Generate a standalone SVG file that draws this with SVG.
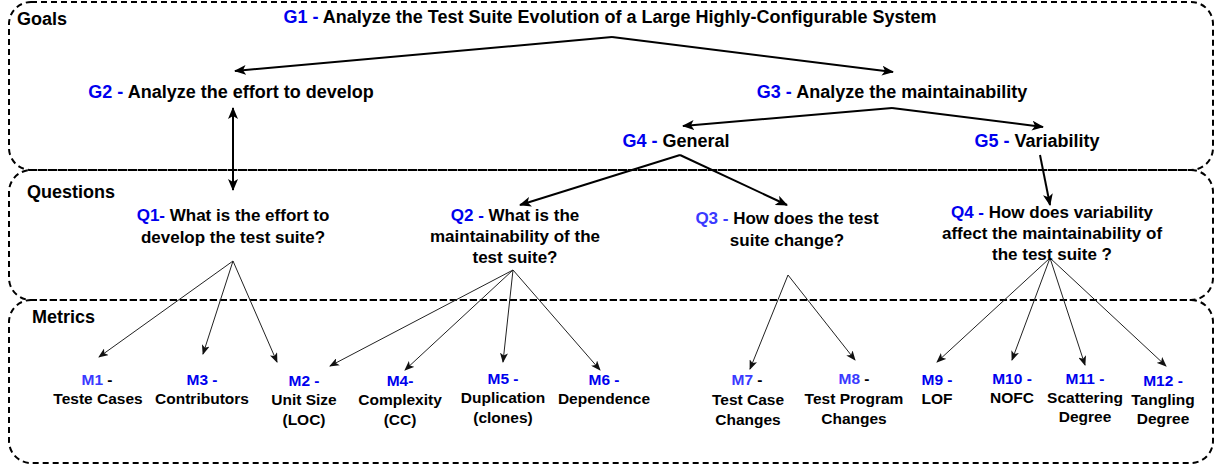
<svg xmlns="http://www.w3.org/2000/svg" width="1222" height="468" viewBox="0 0 1222 468">
<style>
.t{font-family:"Liberation Sans",Arial,sans-serif;font-weight:bold;fill:#000}
.g{font-size:18px}
.q{font-size:17px}
.m{font-size:15.5px}
.c{text-anchor:middle}
.b{fill:#0000ee}
.lb{fill:#3a3aff}
.box{fill:none;stroke:#000;stroke-width:2;stroke-dasharray:6 4}
.a{fill:none;stroke:#000;stroke-width:2}
.f{fill:none;stroke:#222;stroke-width:1}
</style>
<defs>
<marker id="ab" viewBox="0 0 12 10" refX="11" refY="5" markerWidth="12" markerHeight="10" markerUnits="userSpaceOnUse" orient="auto-start-reverse"><path d="M0,0 L12,5 L0,10 L3,5 z" fill="#000"/></marker>
<marker id="as" viewBox="0 0 10 8" refX="9" refY="4" markerWidth="10" markerHeight="8" markerUnits="userSpaceOnUse" orient="auto"><path d="M0,0 L10,4 L0,8 L2.5,4 z" fill="#111"/></marker>
</defs>
<g id="areas">
<rect class="box" x="9" y="2" width="1204" height="168" rx="22"/>
<rect class="box" x="9" y="170" width="1204" height="130" rx="22"/>
<rect class="box" x="9" y="300" width="1204" height="163" rx="22"/>
<text class="t g" x="17" y="25">Goals</text>
<text class="t g" x="27" y="198">Questions</text>
<text class="t g" x="32" y="323">Metrics</text>
</g>
<g id="connectors">
<path class="a" d="M612,37 L235,71" marker-end="url(#ab)"/>
<path class="a" d="M612,37 L893,72" marker-end="url(#ab)"/>
<path class="a" d="M892,108 L683,126" marker-end="url(#ab)"/>
<path class="a" d="M892,108 L1043,127" marker-end="url(#ab)"/>
<path class="a" d="M233,108 L233,190" marker-start="url(#ab)" marker-end="url(#ab)"/>
<path class="a" d="M680,155 L520,205" marker-end="url(#ab)"/>
<path class="a" d="M680,155 L787,205" marker-end="url(#ab)"/>
<path class="a" d="M1040,155 L1050,205" marker-end="url(#ab)"/>
<path class="f" d="M233,261 L99,357" marker-end="url(#as)"/>
<path class="f" d="M233,261 L203,354" marker-end="url(#as)"/>
<path class="f" d="M233,261 L277,362" marker-end="url(#as)"/>
<path class="f" d="M513,270 L330,366" marker-end="url(#as)"/>
<path class="f" d="M513,270 L405,370" marker-end="url(#as)"/>
<path class="f" d="M513,270 L503,362" marker-end="url(#as)"/>
<path class="f" d="M513,270 L600,370" marker-end="url(#as)"/>
<path class="f" d="M788,275 L750,369" marker-end="url(#as)"/>
<path class="f" d="M788,275 L855,360" marker-end="url(#as)"/>
<path class="f" d="M1050,258 L937,362" marker-end="url(#as)"/>
<path class="f" d="M1050,258 L1012,360" marker-end="url(#as)"/>
<path class="f" d="M1050,258 L1085,365" marker-end="url(#as)"/>
<path class="f" d="M1050,258 L1166,366" marker-end="url(#as)"/>
</g>
<g id="G1"><text class="t g c" x="610" y="23"><tspan class="b">G1 -</tspan> Analyze the Test Suite Evolution of a Large Highly-Configurable System</text></g>
<g id="G2"><text class="t g c" x="231" y="98"><tspan class="b">G2 -</tspan> Analyze the effort to develop</text></g>
<g id="G3"><text class="t g c" x="892" y="98"><tspan class="b">G3 -</tspan> Analyze the maintainability</text></g>
<g id="G4"><text class="t g c" x="676" y="147"><tspan class="b">G4 -</tspan> General</text></g>
<g id="G5"><text class="t g c" x="1037" y="147"><tspan class="b">G5 -</tspan> Variability</text></g>
<g id="Q1"><text class="t q c" x="233" y="221"><tspan class="b">Q1-</tspan> What is the effort to</text><text class="t q c" x="233" y="243">develop the test suite?</text></g>
<g id="Q2"><text class="t q c" x="515" y="221"><tspan class="b">Q2 -</tspan> What is the</text><text class="t q c" x="515" y="242">maintainability of the</text><text class="t q c" x="515" y="263">test suite?</text></g>
<g id="Q3"><text class="t q c" x="787" y="224"><tspan class="lb">Q3 -</tspan> How does the test</text><text class="t q c" x="787" y="246">suite change?</text></g>
<g id="Q4"><text class="t q c" x="1052" y="218"><tspan class="b">Q4 -</tspan> How does variability</text><text class="t q c" x="1052" y="239">affect the maintainability of</text><text class="t q c" x="1052" y="260">the test suite ?</text></g>
<g id="M1"><text class="t m c" x="97" y="385"><tspan class="lb">M1</tspan> -</text><text class="t m c" x="98" y="404">Teste Cases</text></g>
<g id="M3"><text class="t m c" x="202" y="385"><tspan class="b">M3 -</tspan></text><text class="t m c" x="202" y="404">Contributors</text></g>
<g id="M2"><text class="t m c" x="304" y="386"><tspan class="b">M2 -</tspan></text><text class="t m c" x="304" y="405">Unit Size</text><text class="t m c" x="304" y="425">(LOC)</text></g>
<g id="M4"><text class="t m c" x="400" y="386"><tspan class="b">M4-</tspan></text><text class="t m c" x="400" y="405">Complexity</text><text class="t m c" x="400" y="425">(CC)</text></g>
<g id="M5"><text class="t m c" x="503" y="384"><tspan class="b">M5 -</tspan></text><text class="t m c" x="503" y="403">Duplication</text><text class="t m c" x="503" y="423">(clones)</text></g>
<g id="M6"><text class="t m c" x="604" y="385"><tspan class="b">M6 -</tspan></text><text class="t m c" x="604" y="404">Dependence</text></g>
<g id="M7"><text class="t m c" x="747" y="385"><tspan class="lb">M7</tspan> -</text><text class="t m c" x="748" y="405">Test Case</text><text class="t m c" x="748" y="425">Changes</text></g>
<g id="M8"><text class="t m c" x="854" y="384"><tspan class="lb">M8</tspan> -</text><text class="t m c" x="854" y="404">Test Program</text><text class="t m c" x="854" y="424">Changes</text></g>
<g id="M9"><text class="t m c" x="937" y="385"><tspan class="b">M9 -</tspan></text><text class="t m c" x="937" y="404">LOF</text></g>
<g id="M10"><text class="t m c" x="1012" y="384"><tspan class="b">M10 -</tspan></text><text class="t m c" x="1012" y="403">NOFC</text></g>
<g id="M11"><text class="t m c" x="1085" y="384"><tspan class="b">M11 -</tspan></text><text class="t m c" x="1085" y="403">Scattering</text><text class="t m c" x="1085" y="422">Degree</text></g>
<g id="M12"><text class="t m c" x="1163" y="386"><tspan class="b">M12 -</tspan></text><text class="t m c" x="1163" y="405">Tangling</text><text class="t m c" x="1163" y="424">Degree</text></g>
</svg>
